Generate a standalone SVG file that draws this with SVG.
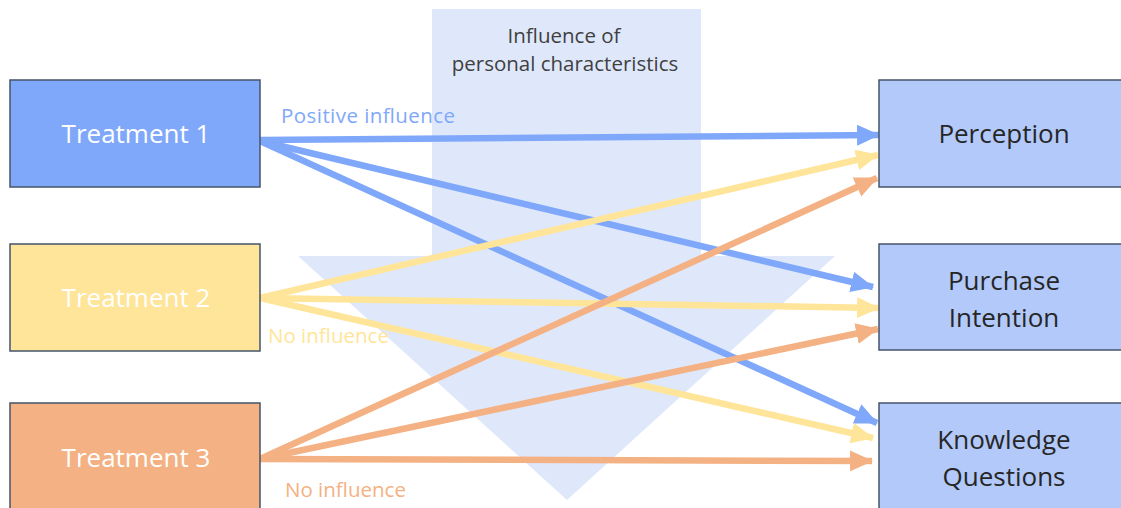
<svg xmlns="http://www.w3.org/2000/svg" width="1121" height="508" viewBox="0 0 1121 508">
<style>
.box{stroke:#44546a;stroke-width:1.5}
.t{font-family:"Open Sans","Liberation Sans",sans-serif;font-size:26px;text-anchor:middle}
.w{fill:#ffffff}
.d{fill:#262626}
.lbl{font-family:"Open Sans","Liberation Sans",sans-serif;font-size:20.5px}
.c{fill:none;stroke-width:6.5}
.b{stroke:#80a8fa}
.y{stroke:#ffe599}
.o{stroke:#f4b183}
</style>
<defs>
<marker id="ab" viewBox="0 0 22 20" refX="21" refY="10" markerWidth="23" markerHeight="21" markerUnits="userSpaceOnUse" orient="auto"><path d="M0,0 L22,10 L0,20 z" fill="#80a8fa"/></marker>
<marker id="ay" viewBox="0 0 22 20" refX="21" refY="10" markerWidth="23" markerHeight="21" markerUnits="userSpaceOnUse" orient="auto"><path d="M0,0 L22,10 L0,20 z" fill="#ffe599"/></marker>
<marker id="ao" viewBox="0 0 22 20" refX="21" refY="10" markerWidth="23" markerHeight="21" markerUnits="userSpaceOnUse" orient="auto"><path d="M0,0 L22,10 L0,20 z" fill="#f4b183"/></marker>
</defs>
<rect width="1121" height="508" fill="#ffffff"/>
<g id="influence">
<polygon points="432,9 701,9 701,256 835,256 567,500 298,256 432,256" fill="#dfe8fb"/>
<text x="564" y="43" class="lbl" fill="#404040" text-anchor="middle">Influence of</text>
<text x="565" y="71" class="lbl" fill="#404040" text-anchor="middle">personal characteristics</text>
</g>
<g id="connectors">
<line class="c b" x1="260" y1="140" x2="879" y2="135" marker-end="url(#ab)"/>
<line class="c b" x1="260" y1="141" x2="873" y2="287" marker-end="url(#ab)"/>
<line class="c b" x1="260" y1="141" x2="877" y2="423" marker-end="url(#ab)"/>
<line class="c y" x1="260" y1="298" x2="878" y2="155" marker-end="url(#ay)"/>
<line class="c y" x1="260" y1="298" x2="879" y2="308" marker-end="url(#ay)"/>
<line class="c y" x1="260" y1="298" x2="873" y2="438" marker-end="url(#ay)"/>
<line class="c o" x1="260" y1="459" x2="877" y2="178" marker-end="url(#ao)"/>
<line class="c o" x1="260" y1="459" x2="878" y2="329" marker-end="url(#ao)"/>
<line class="c o" x1="260" y1="459" x2="872" y2="461" marker-end="url(#ao)"/>
<text x="281" y="123" class="lbl" fill="#80a8fa" textLength="174">Positive influence</text>
<text x="268" y="343" class="lbl" fill="#ffe599">No influence</text>
<text x="285" y="497" class="lbl" fill="#f4b183">No influence</text>
</g>
<g id="treatment1">
<rect class="box" x="10" y="80" width="250" height="107" fill="#80a8fa"/>
<text class="t w" x="136" y="143">Treatment 1</text>
</g>
<g id="treatment2">
<rect class="box" x="10" y="244" width="250" height="107" fill="#ffe599"/>
<text class="t w" x="136" y="307">Treatment 2</text>
</g>
<g id="treatment3">
<rect class="box" x="10" y="403" width="250" height="110" fill="#f4b183"/>
<text class="t w" x="136" y="467">Treatment 3</text>
</g>
<g id="perception">
<rect class="box" x="879" y="80" width="250" height="107" fill="#b2c9f9"/>
<text class="t d" x="1004" y="143">Perception</text>
</g>
<g id="purchase">
<rect class="box" x="879" y="244" width="250" height="106" fill="#b2c9f9"/>
<text class="t d" x="1004" y="290">Purchase</text>
<text class="t d" x="1004" y="327">Intention</text>
</g>
<g id="knowledge">
<rect class="box" x="879" y="403" width="250" height="110" fill="#b2c9f9"/>
<text class="t d" x="1004" y="449">Knowledge</text>
<text class="t d" x="1004" y="486">Questions</text>
</g>
</svg>
